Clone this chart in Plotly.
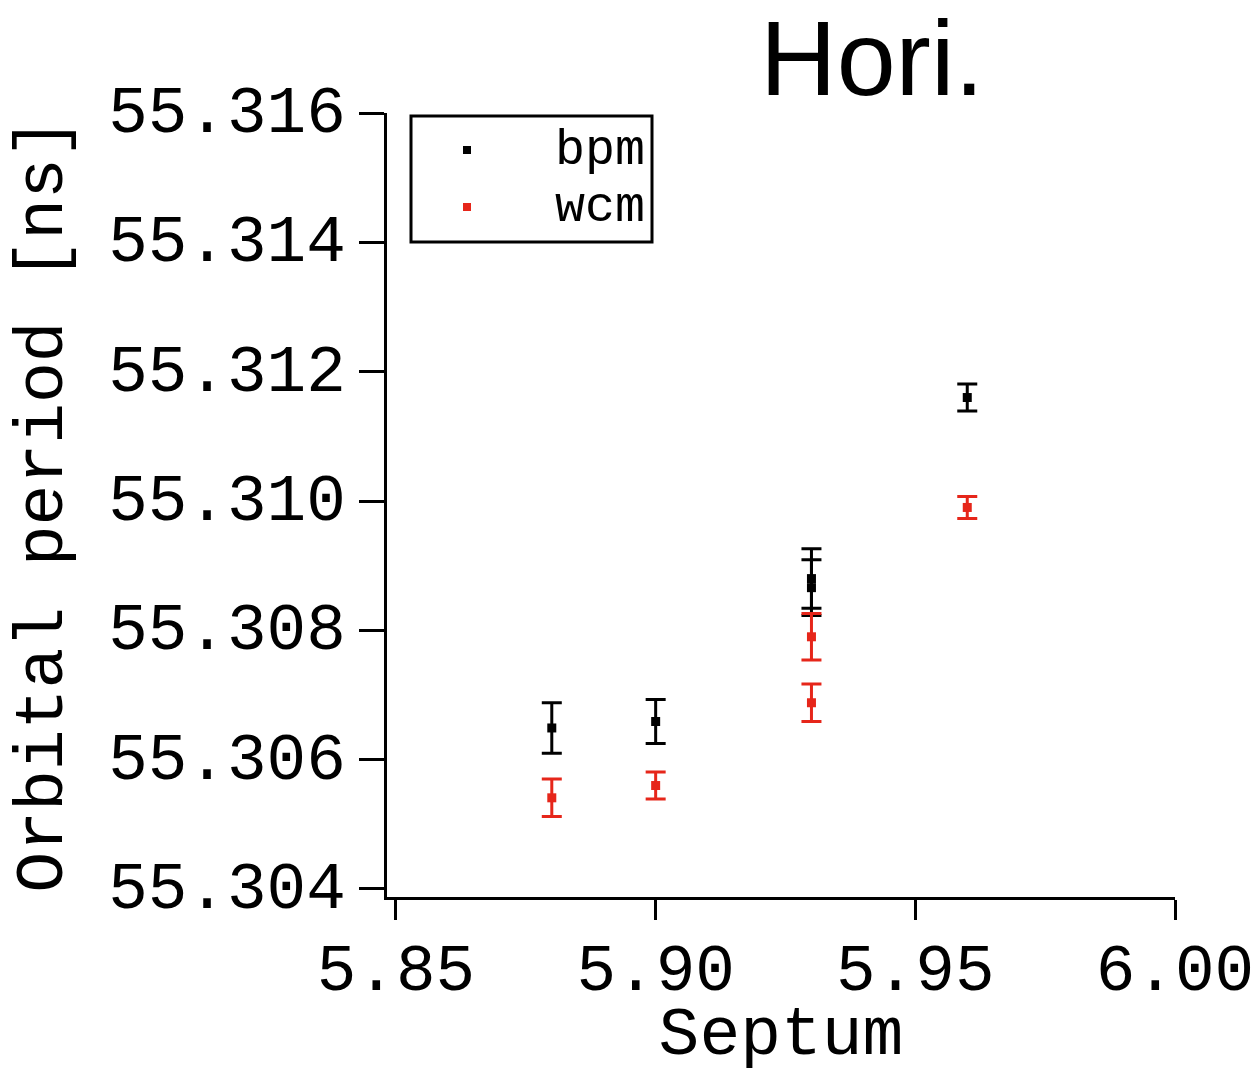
import plotly.graph_objects as go

# Data
bpm_x = [5.88, 5.90, 5.93, 5.93, 5.96]
bpm_y = [55.30649, 55.30659, 55.30880, 55.30866, 55.31160]
bpm_err = [0.00039, 0.00034, 0.00046, 0.00043, 0.00021]

wcm_x = [5.88, 5.90, 5.93, 5.93, 5.96]
wcm_y = [55.30541, 55.30560, 55.30790, 55.30688, 55.30990]
wcm_err = [0.00029, 0.00021, 0.00036, 0.00029, 0.00017]

series_names = ["bpm", "wcm"]
x_ticks = [5.85, 5.90, 5.95, 6.00]
x_ticklabels = ["5.85", "5.90", "5.95", "6.00"]
y_ticks = [55.304, 55.306, 55.308, 55.310, 55.312, 55.314, 55.316]
y_ticklabels = ["55.304", "55.306", "55.308", "55.310", "55.312", "55.314", "55.316"]

MONO = "Courier New, Liberation Mono, monospace"
RED = "#e6261a"
colors = ["black", RED]

W, H = 1256, 1074
L, R, T, B = 387, 81, 113, 177
PW, PH = W - L - R, H - T - B


def px_x(p):
    return (p - L) / PW


def px_y(p):
    return 1 - (p - T) / PH


fig = go.Figure()
for name, xs, ys, es, c in [(series_names[0], bpm_x, bpm_y, bpm_err, colors[0]),
                            (series_names[1], wcm_x, wcm_y, wcm_err, colors[1])]:
    fig.add_trace(go.Scatter(
        x=xs, y=ys, mode="markers", name=name, showlegend=False,
        marker=dict(symbol="square", size=9, color=c, line=dict(width=0)),
        error_y=dict(type="data", array=es, visible=True, color=c, thickness=3, width=10),
    ))

# Legend (box, keys, labels) drawn to match the reference's compact layout
fig.add_shape(type="rect", xref="paper", yref="paper",
              x0=px_x(411), x1=px_x(652), y0=px_y(242), y1=px_y(116),
              line=dict(color="black", width=3), fillcolor="white", layer="above")
for i, (name, c) in enumerate(zip(series_names, colors)):
    cy = 150 + i * 57
    fig.add_shape(type="rect", xref="paper", yref="paper",
                  x0=px_x(463), x1=px_x(471), y0=px_y(cy + 4), y1=px_y(cy - 4),
                  line=dict(width=0), fillcolor=c, layer="above")
    fig.add_annotation(text=name, xref="paper", yref="paper", x=px_x(646), y=px_y(cy),
                       xanchor="right", yanchor="middle", showarrow=False,
                       borderpad=0, valign="middle",
                       font=dict(family=MONO, size=50, color="black"))

fig.update_layout(
    width=W, height=H,
    margin=dict(l=L, r=R, t=T, b=B, autoexpand=False),
    paper_bgcolor="white", plot_bgcolor="white",
    font=dict(family=MONO, size=66, color="black"),
    title=dict(text="Hori.", font=dict(family="Liberation Sans, Arial, sans-serif", size=106, color="black"),
               xref="container", yref="container", x=872/1256, xanchor="center",
               y=1 - 58/1074, yanchor="middle"),
    showlegend=False,
    xaxis=dict(range=[5.85 - 9/260*0.05, 6.00], tickvals=x_ticks, ticktext=x_ticklabels,
               showgrid=False, zeroline=False, showline=True, linecolor="black", linewidth=3,
               ticks="outside", ticklen=20, tickwidth=3, tickcolor="black", automargin=False,
               ticklabelstandoff=-9,
               title=dict(text="Septum", font=dict(family=MONO, size=68), standoff=27)),
    yaxis=dict(range=[55.304 - 8/129.2*0.002, 55.316], tickvals=y_ticks, ticktext=y_ticklabels,
               showgrid=False, zeroline=False, showline=True, linecolor="black", linewidth=3,
               ticks="outside", ticklen=25, tickwidth=3, tickcolor="black", ticklabelstandoff=0,
               ticklabelshift=-4, automargin=False,
               title=dict(text="Orbital period [ns]", font=dict(family=MONO, size=68), standoff=24)),
)

fig.write_html("out.html")
